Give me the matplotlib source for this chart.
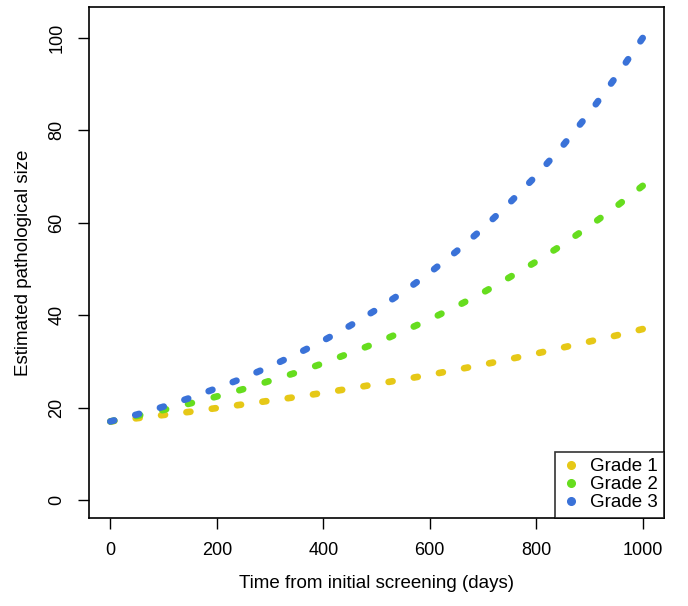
import numpy as np
import matplotlib
matplotlib.use("Agg")
import matplotlib.pyplot as plt

plt.rcParams['font.family'] = ['Liberation Sans', 'DejaVu Sans']

# values
days = [0, 50, 100, 150, 200, 250, 300, 350, 400, 450, 500,
        550, 600, 650, 700, 750, 800, 850, 900, 950, 1000]
grade1 = [17.0, 17.7, 18.4, 19.1, 19.9, 20.7, 21.5, 22.3, 23.2, 24.1, 25.1,
          26.1, 27.1, 28.2, 29.3, 30.5, 31.7, 33.0, 34.3, 35.6, 37.0]
grade2 = [17.0, 18.2, 19.5, 20.9, 22.4, 24.0, 25.8, 27.6, 29.6, 31.8, 34.0,
          36.5, 39.1, 41.9, 44.9, 48.2, 51.6, 55.3, 59.3, 63.5, 68.0]
grade3 = [17.0, 18.5, 20.2, 22.1, 24.2, 26.4, 28.9, 31.6, 34.5, 37.7, 41.2,
          45.0, 49.2, 53.8, 58.8, 64.3, 70.2, 76.7, 83.8, 91.6, 100.0]

labels = ["Grade 1", "Grade 2", "Grade 3"]
colors = ["#e6c817", "#66dd1e", "#3a72d8"]

fig = plt.figure(figsize=(6.88, 6.06), dpi=100)
ax = fig.add_axes([0.1294, 0.1452, 0.8357, 0.8432])
ax.set_xlim(-40, 1040)
ax.set_ylim(-3.9, 106.7)

lw = 4.8
lw_px = lw * 100 / 72
on = 0.6
for y, c, lab in zip([grade1, grade2, grade3], colors, labels):
    # stretch the gaps a little so a dot sits on both ends of the curve
    pts = ax.transData.transform(np.column_stack([days, y]))
    L = np.sum(np.hypot(*np.diff(pts, axis=0).T))
    n = round((L - on * lw_px) / 26)
    off = ((L - on * lw_px) / n - on * lw_px) / lw_px
    ax.plot(days, y, color=c, lw=lw, ls=(0, (on, off)),
            dash_capstyle='round', label=lab)

ax.set_xticks([0, 200, 400, 600, 800, 1000])
ax.set_yticks([0, 20, 40, 60, 80, 100])
ax.tick_params(axis='both', length=8, width=1, labelsize=13, pad=9, colors='black')
for t in ax.get_yticklabels():
    t.set_rotation(90)
    t.set_va('center')
for s in ax.spines.values():
    s.set_linewidth(1.2)

ax.set_xlabel("Time from initial screening (days)", fontsize=13.5, labelpad=12)
ax.set_ylabel("Estimated pathological size", fontsize=13.5, labelpad=12)

handles = [plt.Line2D([], [], ls='none', marker='o', ms=5.5, color=c) for c in colors]
leg = ax.legend(handles, labels, loc='lower right', borderaxespad=0, fontsize=13.5,
                frameon=True, fancybox=False, edgecolor='black', handlelength=1,
                handletextpad=0.5, labelspacing=0.05, borderpad=0.35)
leg.get_frame().set_linewidth(1.2)

fig.savefig("out.png", dpi=100)
